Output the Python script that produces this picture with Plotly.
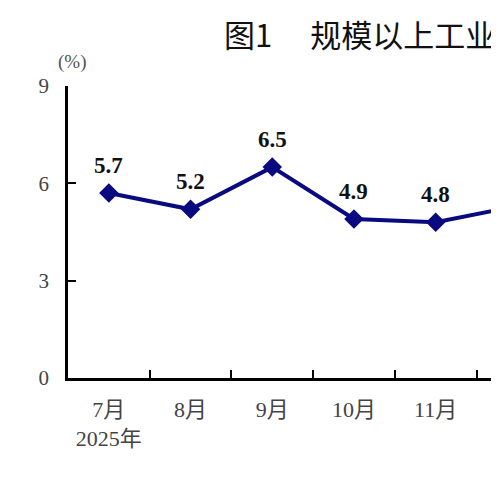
import plotly.graph_objects as go

# 规模以上工业增加值同比增长速度 (%)
months = ["7月<br>2025年", "8月", "9月", "10月", "11月", "12月"]
growth = [5.7, 5.2, 6.5, 4.9, 4.8, 5.3]
y_ticks = [0, 3, 6, 9]

navy = "#0a0a80"
serif = "Liberation Serif, Times New Roman, Noto Sans CJK SC, serif"

x_max = 4.775  # 图在右侧被裁切
# 页面 body 有 8px 默认边距
W, H = 491, 492
L, T, B = 60, 78, 122
plot_w = W - L
plot_h = H - T - B

fig = go.Figure()
fig.add_trace(go.Scatter(
    x=months, y=growth, mode="lines+markers",
    line=dict(color=navy, width=4),
    marker=dict(symbol="diamond", size=15, color=navy),
    hoverinfo="skip",
))

# 数据标签
for m, v in zip(months, growth):
    fig.add_annotation(x=m, y=v, text="<b>%.1f</b>" % v, showarrow=False,
                       yshift=28, font=dict(family=serif, size=23, color="#111"))

# 被裁切的最后一个月份标签
last = len(months) - 1
fig.add_annotation(xref="paper", yref="paper",
                   x=(last + 0.5) / (x_max + 0.5) - 0.01, y=0, yshift=-28,
                   xanchor="center", yanchor="middle",
                   text=months[last], showarrow=False,
                   font=dict(family=serif, size=22, color="#444"))

fig.add_annotation(xref="paper", yref="paper", x=(214 - L) / plot_w, y=1 + (78 - 26) / plot_h,
                   xanchor="left", yanchor="middle", showarrow=False,
                   text="图1　 规模以上工业增加值同比增长速度",
                   font=dict(family="Noto Sans CJK SC", size=31, color="#111"))
fig.add_annotation(xref="paper", yref="paper", x=(64 - L) / plot_w, y=1 + (78 - 54) / plot_h,
                   xanchor="center", yanchor="middle", showarrow=False,
                   text="(%)", font=dict(family=serif, size=19, color="#555"))

fig.update_layout(
    width=W, height=H,
    margin=dict(l=L, r=0, t=T, b=B),
    paper_bgcolor="white", plot_bgcolor="white",
    showlegend=False,
    xaxis=dict(
        type="category", range=[-0.5, x_max], tickson="boundaries",
        ticks="inside", ticklen=8, tickwidth=2, tickcolor="black",
        showline=True, linecolor="black", linewidth=2.5,
        showgrid=False, zeroline=False, fixedrange=True,
        tickfont=dict(family=serif, size=22, color="#444"),
        ticklabelstandoff=10,
    ),
    yaxis=dict(
        range=[0, 9], tickvals=y_ticks,
        ticks="inside", ticklen=8, tickwidth=2, tickcolor="black",
        showline=True, linecolor="black", linewidth=2.5,
        showgrid=False, zeroline=False,
        tickfont=dict(family=serif, size=21, color="#444"),
        ticklabelstandoff=12,
    ),
)

fig.write_html("out.html")
